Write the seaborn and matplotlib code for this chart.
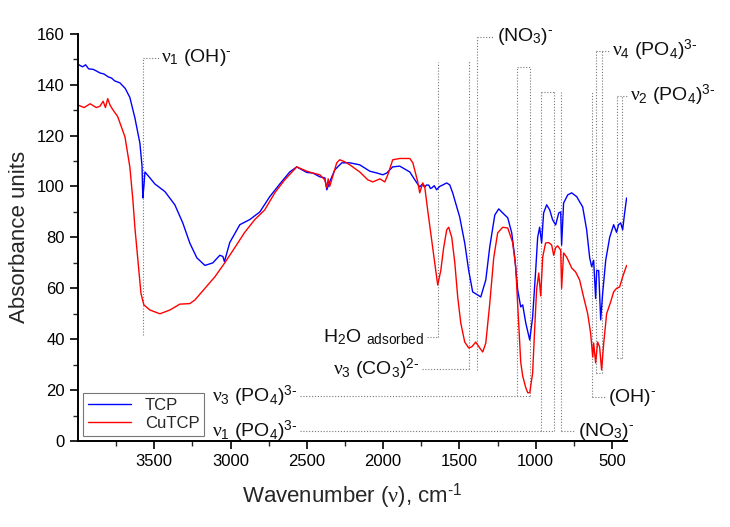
import numpy as np
import pandas as pd
import matplotlib
matplotlib.use('Agg')
import matplotlib.pyplot as plt
from matplotlib.ticker import MultipleLocator
import seaborn as sns

# FTIR spectra (wavenumber in cm-1, absorbance units)
tcp_wn = [4000, 3970, 3950, 3930, 3900, 3880, 3856, 3830, 3800, 3780, 3760, 3725, 3690, 3660,
          3627, 3594, 3580, 3575, 3568, 3561, 3530, 3496, 3430, 3365, 3313, 3267, 3221, 3168,
          3116, 3070, 3050, 3040, 3005, 2939, 2874, 2808, 2743, 2677, 2612, 2566, 2500, 2461,
          2415, 2382, 2369, 2350, 2317, 2271, 2218, 2153, 2087, 2041, 2002, 1976, 1937, 1891,
          1825, 1792, 1760, 1745, 1727, 1715, 1700, 1690, 1680, 1665, 1649, 1630, 1609, 1583,
          1563, 1544, 1498, 1465, 1439, 1413, 1380, 1360, 1327, 1301, 1268, 1242, 1216, 1183,
          1157, 1137, 1118, 1098, 1085, 1065, 1039, 1020, 1000, 987, 974, 961, 948, 928, 908,
          889, 869, 849, 836, 830, 817, 790, 764, 731, 712, 692, 666, 646, 633, 620, 607, 600,
          587, 574, 561, 541, 515, 489, 470, 457, 443, 430, 417, 404]
tcp_abs = [148.0, 147.0, 147.8, 146.2, 146.0, 145.4, 144.6, 144.2, 143.0, 142.6, 141.5, 140.7,
           138.5, 135.0, 127.0, 117.0, 108.0, 95.5, 100.0, 105.7, 103.5, 101.0, 98.0, 92.8,
           85.7, 77.8, 72.0, 69.0, 70.0, 73.0, 72.5, 70.5, 78.0, 85.0, 87.0, 90.0, 96.0, 101.0,
           105.7, 107.7, 105.5, 105.3, 103.8, 103.4, 98.7, 101.8, 106.5, 109.3, 109.3, 108.5,
           106.0, 105.3, 104.6, 105.3, 107.7, 108.0, 105.7, 102.6, 99.8, 100.8, 99.8, 100.6,
           100.5, 99.2, 99.5, 100.3, 98.7, 100.0, 100.6, 101.4, 100.6, 97.5, 88.0, 77.8, 67.0,
           58.6, 57.4, 56.6, 63.3, 76.3, 88.8, 91.2, 89.6, 87.7, 81.8, 72.0, 59.4, 52.7, 53.5,
           46.4, 39.7, 48.7, 67.0, 80.0, 84.0, 77.8, 89.6, 92.8, 90.8, 86.9, 84.9, 89.6, 90.0,
           77.0, 93.5, 96.7, 97.5, 96.0, 94.0, 92.0, 83.0, 72.0, 68.5, 71.0, 56.0, 67.0, 67.0,
           47.6, 58.0, 71.0, 80.0, 85.0, 82.0, 85.0, 85.7, 83.0, 89.6, 95.5]

cutcp_wn = [4000, 3960, 3920, 3880, 3856, 3835, 3820, 3805, 3790, 3775, 3758, 3740, 3725, 3692,
            3660, 3640, 3627, 3607, 3587, 3568, 3529, 3463, 3397, 3332, 3267, 3234, 3168, 3103,
            3038, 2972, 2907, 2841, 2776, 2710, 2645, 2566, 2500, 2461, 2415, 2382, 2369, 2360,
            2350, 2304, 2284, 2251, 2218, 2153, 2100, 2067, 2021, 1989, 1969, 1937, 1891, 1825,
            1805, 1773, 1760, 1740, 1727, 1708, 1682, 1655, 1642, 1622, 1603, 1583, 1570, 1550,
            1530, 1511, 1491, 1465, 1439, 1419, 1393, 1367, 1347, 1327, 1301, 1275, 1249, 1216,
            1183, 1151, 1131, 1118, 1098, 1085, 1065, 1052, 1039, 1020, 1007, 994, 980, 967, 954,
            935, 915, 895, 882, 869, 856, 836, 830, 817, 797, 764, 738, 712, 686, 659, 640, 626,
            620, 607, 594, 581, 568, 554, 535, 509, 489, 470, 450, 430, 404]
cutcp_abs = [132.0, 131.0, 132.5, 131.0, 131.5, 133.5, 131.0, 134.5, 132.0, 130.5, 129.0, 127.5,
             125.0, 119.5, 107.7, 94.7, 84.0, 71.0, 58.0, 53.5, 51.5, 50.0, 51.5, 53.8, 54.0,
             55.4, 60.0, 64.5, 70.0, 76.0, 82.0, 87.0, 90.8, 97.5, 102.6, 107.7, 106.0, 105.3,
             104.6, 102.6, 99.5, 103.0, 100.0, 109.3, 110.5, 109.7, 108.5, 105.7, 102.6, 101.8,
             103.0, 101.8, 104.6, 110.5, 111.0, 111.0, 109.3, 101.8, 97.5, 101.4, 99.8, 90.8,
             79.0, 67.0, 61.3, 67.0, 76.0, 83.0, 84.0, 80.0, 70.0, 56.6, 46.4, 38.9, 36.6, 37.0,
             38.9, 36.6, 35.0, 38.5, 54.0, 72.0, 81.8, 84.0, 83.7, 78.0, 68.5, 54.0, 31.0, 25.5,
             21.0, 19.0, 19.0, 26.7, 43.6, 59.4, 66.0, 57.0, 72.3, 77.8, 78.0, 77.0, 73.0, 76.0,
             76.7, 75.0, 60.0, 73.9, 72.3, 68.0, 66.4, 63.3, 56.6, 50.0, 42.5, 33.0, 38.5, 30.7,
             38.9, 37.0, 28.0, 38.5, 50.0, 54.6, 58.6, 60.0, 60.5, 64.5, 69.0]

samples = ['TCP', 'CuTCP']
colors = ['#0000ff', '#ff0000']

# band assignments: label, band positions, top / bottom of the dotted marks,
# side of the label, end of the leader line and x of the text
band_labels = [r'$\nu_1$ (OH)$^{\text{-}}$', r'(NO$_3$)$^{\text{-}}$',
               r'H$_2$O $_{\text{adsorbed}}$', r'$\nu_3$ (CO$_3$)$^{\text{2-}}$',
               r'$\nu_3$ (PO$_4$)$^{\text{3-}}$', r'$\nu_1$ (PO$_4$)$^{\text{3-}}$',
               r'(NO$_3$)$^{\text{-}}$', r'(OH)$^{\text{-}}$',
               r'$\nu_4$ (PO$_4$)$^{\text{3-}}$', r'$\nu_2$ (PO$_4$)$^{\text{3-}}$']
band_pos = [[3572], [1384], [1640], [1440], [1120, 1035], [967, 877], [835], [632],
            [605, 568], [470, 432]]
band_top = [150.5, 158.8, 149.0, 149.8, 147.0, 137.2, 137.2, 137.6, 153.3, 135.6]
band_bottom = [41.7, 28.0, 40.9, 28.3, 17.7, 3.9, 3.9, 17.3, 26.7, 32.6]
band_side = ['top', 'top', 'bottom', 'bottom', 'bottom', 'bottom', 'bottom', 'bottom',
             'top', 'top']
band_line_end = [3470, 1270, 1715, 1747, 2545, 2545, 745, 548, 515, 397]
band_text_x = [3455, 1255, 1730, 1762, 2560, 2560, 725, 528, 502, 384]

df = pd.concat([
    pd.DataFrame({'wavenumber': tcp_wn, 'absorbance': tcp_abs, 'sample': 'TCP'}),
    pd.DataFrame({'wavenumber': cutcp_wn, 'absorbance': cutcp_abs, 'sample': 'CuTCP'}),
])

sns.set_theme(style='ticks')
plt.rcParams['font.family'] = ['Liberation Sans', 'DejaVu Sans']
plt.rcParams['mathtext.fontset'] = 'custom'
plt.rcParams['mathtext.rm'] = 'Liberation Sans'
plt.rcParams['mathtext.it'] = 'Liberation Serif'
plt.rcParams['mathtext.sf'] = 'Liberation Sans'

fig = plt.figure(figsize=(7.3, 5.27), dpi=100)
ax = fig.add_axes([0.107, 0.163, 0.752, 0.773])

sns.lineplot(data=df, x='wavenumber', y='absorbance', hue='sample', hue_order=samples,
             palette=colors, estimator=None, sort=False, linewidth=1.0, ax=ax)

dot = dict(color='#777777', lw=0.8, ls=(0, (1, 1.6)), clip_on=False, zorder=1)
for lab, pos, top, bot, side, end, tx in zip(band_labels, band_pos, band_top, band_bottom,
                                              band_side, band_line_end, band_text_x):
    for p in pos:
        ax.plot([p, p], [bot, top], **dot)
    y_lab = top if side == 'top' else bot
    y_other = bot if side == 'top' else top
    if len(pos) > 1:
        ax.plot([max(pos), min(pos)], [y_other, y_other], **dot)
    if end < min(pos):
        ax.plot([max(pos), end], [y_lab, y_lab], **dot)
        ha = 'left'
    else:
        ax.plot([end, min(pos)], [y_lab, y_lab], **dot)
        ha = 'right'
    ax.text(tx, y_lab, lab, ha=ha, va='center', fontsize=14, color='#111111', clip_on=False)

ax.set_xlim(3999, 401)
ax.set_ylim(0, 160)
ax.xaxis.set_major_locator(MultipleLocator(500))
ax.xaxis.set_minor_locator(MultipleLocator(250))
ax.yaxis.set_major_locator(MultipleLocator(20))
ax.yaxis.set_minor_locator(MultipleLocator(10))
ax.tick_params(which='major', direction='out', length=6, width=1.2, labelsize=12, colors='black')
ax.tick_params(which='minor', direction='out', length=3.5, width=1.0)
for s in ['left', 'bottom']:
    ax.spines[s].set_linewidth(1.4)
    ax.spines[s].set_color('black')
sns.despine(ax=ax)

ax.set_xlabel(r'Wavenumber ($\nu$), cm$^{\text{-1}}$', fontsize=16, labelpad=9)
ax.set_ylabel('Absorbance units', fontsize=16, labelpad=5)

handles, labels = ax.get_legend_handles_labels()
leg = ax.legend(handles, labels, loc='lower left', bbox_to_anchor=(0.0, 0.0), fontsize=12,
                frameon=True, fancybox=False, edgecolor='#555555', borderaxespad=0.3,
                handlelength=2.6, labelspacing=0.2, borderpad=0.3)
leg.get_frame().set_linewidth(0.8)

fig.savefig('out.png', dpi=100)
